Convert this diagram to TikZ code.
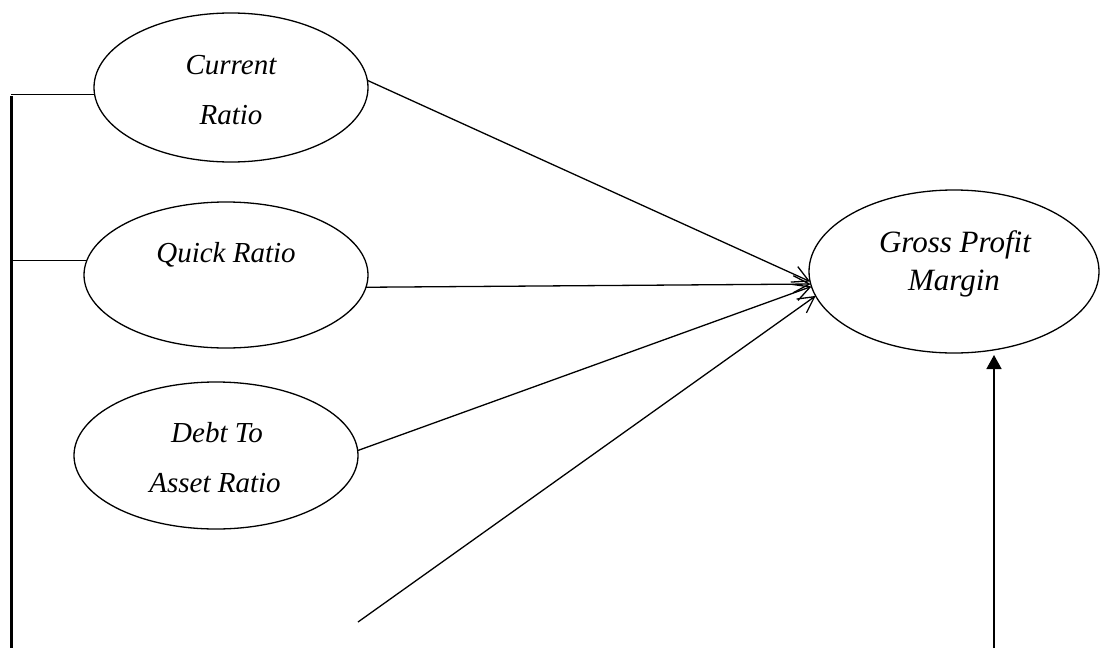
\documentclass[tikz,border=0pt]{standalone}
\usepackage{fontspec}
\setmainfont{Liberation Serif}
\usetikzlibrary{shapes.geometric,arrows.meta}
\begin{document}
\begin{tikzpicture}[x=1pt,y=-1pt,
  oval/.style={draw,ellipse,line width=1.3pt,inner sep=0pt,outer sep=0pt},
  lbl/.style={anchor=base,inner sep=0pt,font=\fontsize{29}{29}\selectfont\itshape},
  lblg/.style={anchor=base,inner sep=0pt,font=\fontsize{31}{31}\selectfont\itshape},
  conn/.style={line width=1.3pt},
  arr/.style={line width=1.3pt,-{Straight Barb[length=16pt,width=17pt,line width=1.3pt]}},
  farr/.style={line width=1.5pt,-{Triangle[length=14pt,width=15pt]}}]
\useasboundingbox (0,0) rectangle (1100,648);
% ellipses
\node[oval,minimum width=274pt,minimum height=149pt] (cr) at (231,87.5) {};
\node[oval,minimum width=284pt,minimum height=146pt] (qr) at (226,275) {};
\node[oval,minimum width=284pt,minimum height=147pt] (dr) at (216,455.5) {};
\node[oval,minimum width=290pt,minimum height=163pt] (gp) at (954,271.5) {};
% labels
\node[lbl] (cr1) at (231,74) {Current};
\node[lbl] (cr2) at (231,124) {Ratio};
\node[lbl] (qr1) at (226,262) {Quick Ratio};
\node[lbl] (dr1) at (217,442) {Debt To};
\node[lbl] (dr2) at (215,492) {Asset Ratio};
\node[lblg] (gp1) at (955,252) {Gross Profit};
\node[lblg] (gp2) at (954,290) {Margin};
% left bracket
\coordinate (vtop) at (11,96);
\coordinate (vbot) at (11,648);
\draw[line width=3pt] (vtop) -- (vbot);
\draw[conn] (cr.183.5) -- (cr.183.5 -| vtop);
\draw[conn] (qr.174.8) -- (qr.174.8 -| vtop);
% arrows into Gross Profit Margin
\draw[arr] (cr.3) -- (gp.184.5);
\draw[arr] (qr.355.6) -- (gp.185.7);
\draw[arr] (dr.2.2) -- (gp.186.8);
\coordinate (free) at (358,622);
\draw[arr] (free) -- (gp.190);
% vertical arrow
\coordinate (vb) at (994,648);
\coordinate (vt) at (994,355);
\draw[farr] (vb) -- (vt);
\end{tikzpicture}
\end{document}
